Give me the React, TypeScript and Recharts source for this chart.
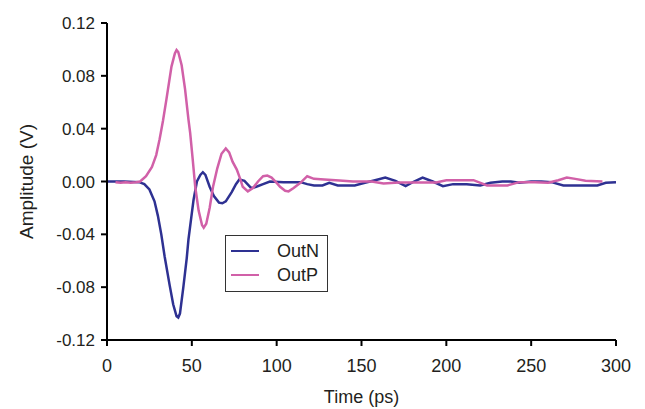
import { LineChart, Line, XAxis, YAxis, Legend } from 'recharts';

const timeN = [
  0, 10, 19, 22, 25, 28, 30, 32, 34, 37, 39, 41, 42, 43, 45, 47, 48, 50, 51, 53,
  55, 56.5, 58, 60.5, 63, 66, 68, 70, 73.5, 76, 78, 81, 85, 88, 92, 96, 104, 114, 118, 122,
  127, 131, 136, 146, 152, 158, 164, 170, 176, 181, 186, 192, 198, 204, 212, 220, 226, 233, 238, 243,
  250, 256, 262, 269, 280, 289, 294, 300,
];
const outN = [
  0, 0, -0.0005, -0.002, -0.006, -0.015, -0.026, -0.04, -0.057, -0.079, -0.093, -0.102, -0.103, -0.1, -0.08, -0.058, -0.044, -0.024, -0.014, 0,
  0.005, 0.007, 0.005, -0.004, -0.011, -0.016, -0.0165, -0.015, -0.008, -0.002, 0.0015, 0.0005, -0.005, -0.004, -0.002, 0, -0.0005, -0.0005, -0.002, -0.003,
  -0.003, -0.001, -0.003, -0.003, -0.001, 0.001, 0.003, 0.0005, -0.0035, 0, 0.003, 0, -0.0035, -0.002, -0.002, -0.003, -0.001, 0, 0, -0.001,
  0, 0, -0.0005, -0.003, -0.003, -0.003, -0.001, -0.0005,
];

const timeP = [
  5, 8, 11, 14, 17, 19.5, 23, 26.5, 29, 31, 33, 35, 38, 40, 41, 42, 44, 46, 48, 49,
  50.5, 52, 54, 56, 57, 58.5, 60.5, 62.5, 65, 67.5, 70, 72, 74, 76.5, 78.5, 80, 83, 86, 89, 92,
  94.5, 97, 100, 102, 105, 107, 110, 114, 118, 122, 128, 137, 145, 156, 163, 172, 185, 194, 200, 216,
  224, 236, 243, 252, 260, 266, 271, 276, 282, 292,
];
const outP = [
  -0.0005, -0.001, -0.0005, -0.001, -0.0005, 0, 0.004, 0.011, 0.02, 0.032, 0.046, 0.062, 0.087, 0.097, 0.0995, 0.098, 0.088, 0.07, 0.047, 0.037,
  0.017, -0.004, -0.022, -0.033, -0.035, -0.032, -0.02, -0.004, 0.01, 0.021, 0.025, 0.022, 0.015, 0.009, 0.002, -0.004, -0.0075, -0.005, 0, 0.004,
  0.0045, 0.003, -0.001, -0.004, -0.007, -0.0075, -0.005, -0.001, 0.004, 0.002, 0.0015, 0.0008, 0, 0, -0.0015, -0.0008, -0.0008, -0.0008, 0.001, 0.001,
  -0.003, -0.003, -0.0005, -0.0005, -0.001, 0.001, 0.003, 0.002, 0.0005, 0,
];

const xTicks = [0, 50, 100, 150, 200, 250, 300];
const yTicks = [-0.12, -0.08, -0.04, 0, 0.04, 0.08, 0.12];

const seriesN = timeN.map((t, i) => ({ t, v: outN[i] }));
const seriesP = timeP.map((t, i) => ({ t, v: outP[i] }));

const FONT = "'Liberation Sans', Arial, sans-serif";
const TEXT = '#231f20';
const BLUE = '#2e3192';
const PINK = '#d160a8';

function LegendBox() {
  const row = (color: string, label: string) => (
    <div style={{ display: 'flex', alignItems: 'center', height: 24 }}>
      <div style={{ width: 28, height: 0, borderTop: `2.5px solid ${color}`, marginLeft: 5, marginRight: 18 }} />
      <span style={{ fontSize: 18, color: TEXT, lineHeight: '24px' }}>{label}</span>
    </div>
  );
  return (
    <div
      style={{
        width: 103,
        height: 57,
        border: '1.5px solid #333',
        background: '#fff',
        fontFamily: FONT,
        paddingTop: 3,
        boxSizing: 'border-box',
      }}
    >
      {row(BLUE, 'OutN')}
      {row(PINK, 'OutP')}
    </div>
  );
}

export default function App() {
  return (
    <div style={{ position: 'absolute', left: 0, top: 0, background: '#fff' }}>
      <LineChart width={645} height={409} margin={{ top: 23, right: 29, left: 0, bottom: 0 }}>
        <XAxis
          type="number"
          dataKey="t"
          domain={[0, 300]}
          ticks={xTicks}
          allowDuplicatedCategory={false}
          axisLine={{ stroke: '#000', strokeWidth: 2 }}
          tickLine={{ stroke: '#000', strokeWidth: 2 }}
          tickSize={6}
          tickMargin={13}
          height={69}
          tick={{ fill: TEXT, fontSize: 18, fontFamily: FONT }}
          label={{ value: 'Time (ps)', position: 'insideBottom', offset: 6, fill: TEXT, fontSize: 18, fontFamily: FONT }}
        />
        <YAxis
          type="number"
          domain={[-0.12, 0.12]}
          ticks={yTicks}
          tickFormatter={(v: number) => v.toFixed(2)}
          axisLine={{ stroke: '#000', strokeWidth: 2 }}
          tickLine={{ stroke: '#000', strokeWidth: 2 }}
          tickSize={6}
          tickMargin={6}
          width={107}
          tick={{ fill: TEXT, fontSize: 17, fontFamily: FONT }}
          label={{ value: 'Amplitude (V)', angle: -90, position: 'insideLeft', offset: 26, fill: TEXT, fontSize: 19, fontFamily: FONT, style: { textAnchor: 'middle' } }}
        />
        <Legend
          layout="horizontal"
          verticalAlign="middle"
          align="center"
          content={() => <LegendBox />}
          wrapperStyle={{ left: 225, top: 235, width: 103, height: 57 }}
        />
        <Line data={seriesN} dataKey="v" name="OutN" type="linear" stroke={BLUE} strokeWidth={2.5} dot={false} isAnimationActive={false} />
        <Line data={seriesP} dataKey="v" name="OutP" type="linear" stroke={PINK} strokeWidth={2.5} dot={false} isAnimationActive={false} />
      </LineChart>
    </div>
  );
}
